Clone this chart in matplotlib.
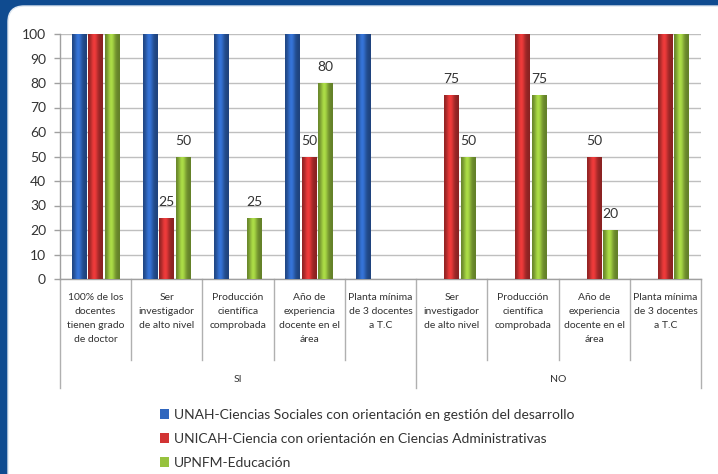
import numpy as np
import matplotlib
matplotlib.use("Agg")
import matplotlib.pyplot as plt
from matplotlib.patches import FancyBboxPatch, Patch
from matplotlib.transforms import IdentityTransform, blended_transform_factory
from matplotlib.colors import to_rgb

plt.rcParams['font.family'] = ['Lato', 'DejaVu Sans']

categories = [
    "100% de los\ndocentes\ntienen grado\nde doctor",
    "Ser\ninvestigador\nde alto nivel",
    "Producción\ncientífica\ncomprobada",
    "Año de\nexperiencia\ndocente en el\nárea",
    "Planta mínima\nde 3 docentes\na T.C",
    "Ser\ninvestigador\nde alto nivel",
    "Producción\ncientífica\ncomprobada",
    "Año de\nexperiencia\ndocente en el\nárea",
    "Planta mínima\nde 3 docentes\na T.C",
]
groups = ["SI", "NO"]
group_sizes = [5, 4]

series_names = [
    "UNAH-Ciencias Sociales con orientación en gestión del desarrollo",
    "UNICAH-Ciencia con orientación en Ciencias Administrativas",
    "UPNFM-Educación",
]
unah = [100, 100, 100, 100, 100, 0, 0, 0, 0]
unicah = [100, 25, 0, 50, 0, 75, 100, 50, 100]
upnfm = [100, 50, 25, 80, 0, 50, 75, 20, 100]
series = [unah, unicah, upnfm]
# which values carry a data label (the 100s do not)
show_labels = [
    [False] * 9,
    [False, True, False, True, False, True, False, True, False],
    [False, True, True, True, False, True, True, True, False],
]
yticks = list(range(0, 101, 10))

colors = ["#2F66BE", "#D23434", "#97C23E"]

W, H = 718, 474
fig = plt.figure(figsize=(W / 100, H / 100), dpi=100)
fig.patch.set_facecolor("#0F4B90")
panel = FancyBboxPatch((8, -30), 760, H - 6 + 30,
                       boxstyle="round,pad=0,rounding_size=16",
                       transform=IdentityTransform(),
                       facecolor="white", edgecolor="#DDE6F0", linewidth=1.0, zorder=0)
fig.add_artist(panel)

x_left, x_right, y_top, y_bot = 60, 701, 34, 279
ax = fig.add_axes([x_left / W, 1 - y_bot / H, (x_right - x_left) / W, (y_bot - y_top) / H])
ax.set_facecolor("none")

n = len(categories)
x = np.arange(n)
bw = 0.21
offs = [-0.232, 0.0, 0.232]

def shade_img(base):
    r = np.array(to_rgb(base))
    t = np.linspace(0, 1, 64)
    f = 0.66 + 0.48 * np.exp(-((t - 0.42) / 0.26) ** 2)
    img = np.clip(r[None, :] * f[:, None], 0, 1)
    img = np.concatenate([img, np.ones((64, 1))], axis=1)
    return img[None, :, :]

for i, (vals, col) in enumerate(zip(series, colors)):
    bars = ax.bar(x + offs[i], vals, width=bw, color=col, zorder=2, linewidth=0)
    img = shade_img(col)
    for rect, v in zip(bars, vals):
        if v <= 0:
            continue
        x0 = rect.get_x()
        im = ax.imshow(img, extent=[x0, x0 + rect.get_width(), 0, v],
                       aspect="auto", zorder=3, interpolation="bilinear")
        im.set_clip_path(rect)
    for j, v in enumerate(vals):
        if show_labels[i][j]:
            ax.annotate(f"{v}", (x[j] + offs[i], v), xytext=(0, 11.5),
                        textcoords="offset points", ha="center", va="center",
                        fontsize=10, color="#333333", zorder=5)

ax.set_xlim(-0.5, n - 0.5)
ax.set_ylim(0, 100)
ax.set_yticks(yticks)
ax.tick_params(axis="y", length=4, width=1, color="#A0A0A0", pad=6,
               labelsize=10, labelcolor="#333333")
ax.set_xticks([])
ax.yaxis.grid(True, color="#BFBFBF", linewidth=1.0, zorder=0)
ax.set_axisbelow(True)
for s in ["top", "right"]:
    ax.spines[s].set_visible(False)
for s in ["left", "bottom"]:
    ax.spines[s].set_color("#A0A0A0")
    ax.spines[s].set_linewidth(1.0)

ah = y_bot - y_top
trans = blended_transform_factory(ax.transData, ax.transAxes)
# category separators
boundaries = np.arange(n + 1) - 0.5
group_edges = set(np.cumsum([0] + group_sizes).tolist())
for k, b in enumerate(boundaries):
    ylow = -(388 - y_bot) / ah if k in group_edges else -(360 - y_bot) / ah
    ax.plot([b, b], [0, ylow], transform=trans, color="#B0B0B0",
            linewidth=1.0, clip_on=False)

for j, lab in enumerate(categories):
    ax.text(x[j], -(293 - y_bot) / ah, lab, transform=trans, ha="center", va="top",
            fontsize=7.5, color="#333333", linespacing=1.72)

start = 0
for g, sz in zip(groups, group_sizes):
    ax.text(start - 0.5 + sz / 2, -(380 - y_bot) / ah, g, transform=trans,
            ha="center", va="center", fontsize=7.5, color="#333333")
    start += sz

handles = [Patch(facecolor=c, edgecolor="none") for c in colors]
fig.legend(handles, series_names, loc="upper left",
           bbox_to_anchor=(160 / W, 1 - 409 / H), frameon=False,
           fontsize=10, handlelength=0.65, handleheight=0.65,
           handletextpad=0.35, labelspacing=0.86, labelcolor="#333333",
           borderpad=0, borderaxespad=0)

fig.savefig("out.png", dpi=100, facecolor=fig.get_facecolor())
